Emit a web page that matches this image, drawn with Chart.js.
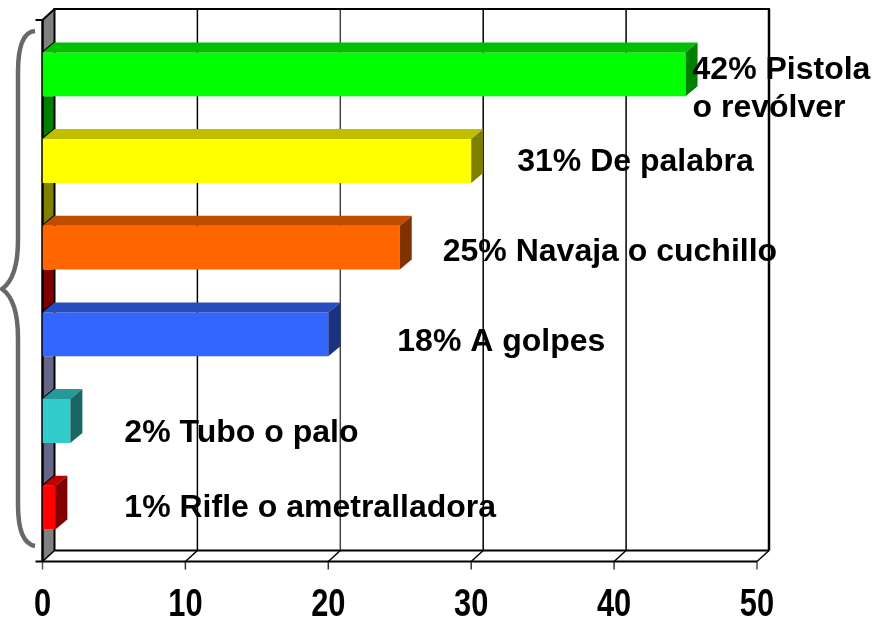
<!DOCTYPE html>
<html>
<head>
<meta charset="utf-8">
<title>Chart</title>
<style>
  html, body { margin: 0; padding: 0; background: #fff; overflow: hidden; }
  canvas { display: block; }
</style>
<script src="https://cdn.jsdelivr.net/npm/chart.js@4"></script>
</head>
<body>
<canvas id="chart" width="888" height="618"></canvas>
<script>
const categories = ['42% Pistola\no revólver', '31% De palabra', '25% Navaja o cuchillo', '18% A golpes', '2% Tubo o palo', '1% Rifle o ametralladora'];
const barValues = [45, 30, 25, 20, 1.95, 0.9];

const barColors = ['#00ff00', '#ffff00', '#ff6600', '#3366ff', '#33cccc', '#ff0000'];
const topColors = ['#00bf00', '#bfbf00', '#bf4d00', '#264dbf', '#269999', '#bf0000'];
const sideColors = ['#008000', '#808000', '#803300', '#1a3380', '#1a6666', '#800000'];
// left wall, piece above the first bar then the piece under each bar
const wallColors = ['#808080', '#008000', '#808000', '#800000', '#666688', '#666688', '#808080'];

// where the text boxes sit, relative to the end of their bar
const labelGap = [7, 46, 43, 69, 54, 69];
const labelShift = [-4, 1, 5, 8, 12, 1];

const DX = 12, DY = 10;       // depth of the fake 3d
const FLOOR = 10.5;           // front floor line sits below the last band
const ROOF = 11;              // front wall top sits above the first band

function line(ctx, x1, y1, x2, y2, w, color) {
  ctx.beginPath();
  ctx.moveTo(x1, y1);
  ctx.lineTo(x2, y2);
  ctx.lineWidth = w;
  ctx.strokeStyle = color || '#000';
  ctx.stroke();
}

function poly(ctx, pts, color) {
  ctx.beginPath();
  pts.forEach((p, i) => i ? ctx.lineTo(p[0], p[1]) : ctx.moveTo(p[0], p[1]));
  ctx.closePath();
  ctx.fillStyle = color;
  ctx.fill();
}

const box3d = {
  id: 'box3d',
  beforeDatasetsDraw(chart) {
    const ctx = chart.ctx, a = chart.chartArea, x = chart.scales.x;
    const bars = chart.getDatasetMeta(0).data;
    const front = a.bottom + FLOOR, top = a.top - ROOF;
    const left = a.left, right = a.right;
    ctx.save();

    // left wall pieces between the bars
    let from = top;
    bars.forEach((b, i) => {
      const to = b.y - b.height / 2;
      poly(ctx, [[left, from], [left + DX, from - (i ? 0 : DY + 1)], [left + DX, to - DY], [left, to]], wallColors[i]);
      line(ctx, left, to, left + DX, to - DY, 2);
      from = b.y + b.height / 2;
    });
    poly(ctx, [[left, from], [left + DX, from], [left + DX, front - DY - 1], [left, front]], wallColors[6]);

    // back wall grid and floor
    x.ticks.forEach(t => {
      const px = x.getPixelForValue(t.value);
      const edge = t.value === 0 || t.value === 50;
      line(ctx, px + DX, top - DY - 1, px + DX, front - DY - 1, t.value === 50 ? 2.5 : (edge ? 2 : 1.5), t.value === 20 ? '#444' : '#000');
      line(ctx, px, front, px + DX, front - DY - 1, 1.5);
      line(ctx, px, front, px, front + 8, 1.5, t.value === 0 || t.value === 50 ? '#555' : '#333');
    });
    line(ctx, left + DX - 1, top - DY - 1, right + DX + 1, top - DY - 1, 2);
    line(ctx, left + DX, front - DY - 1, right + DX, front - DY - 1, 2);
    line(ctx, left - 7, front, right, front, 2);

    // front left edge with its end ticks
    line(ctx, left, top, left, front, 2.5);
    line(ctx, left, top, left + DX, top - DY - 1, 2);
    line(ctx, left - 7, top, left, top, 2);
    ctx.restore();
  },
  afterDatasetsDraw(chart) {
    const ctx = chart.ctx, x = chart.scales.x;
    const bars = chart.getDatasetMeta(0).data;
    ctx.save();
    bars.forEach((b, i) => {
      const t = b.y - b.height / 2, f = b.y + b.height / 2;
      poly(ctx, [[b.base, t], [b.base + DX, t - DY], [b.x + DX, t - DY], [b.x, t]], topColors[i]);
      poly(ctx, [[b.x, t], [b.x + DX, t - DY], [b.x + DX, f - DY], [b.x, f]], sideColors[i]);
    });

    // text boxes
    ctx.font = 'bold 32px "Liberation Sans", Arial, sans-serif';
    ctx.fillStyle = '#000';
    ctx.textBaseline = 'middle';
    ctx.textAlign = 'left';
    bars.forEach((b, i) => {
      categories[i].split('\n').forEach((txt, n) => {
        ctx.fillText(txt, b.x + labelGap[i], b.y + labelShift[i] + n * 38);
      });
    });

    // tick labels are squeezed in the original, the scale has no option for that
    ctx.font = 'bold 39px "Liberation Sans", Arial, sans-serif';
    ctx.textAlign = 'center';
    ctx.textBaseline = 'alphabetic';
    x.ticks.forEach(t => {
      ctx.save();
      ctx.translate(x.getPixelForValue(t.value), 615.5);
      ctx.scale(0.79, 1);
      ctx.fillText(t.label, 0, 0);
      ctx.restore();
    });

    // the brace on the left
    ctx.beginPath();
    ctx.moveTo(35, 31);
    ctx.bezierCurveTo(22, 32, 18, 50, 18, 72);
    ctx.lineTo(18, 240);
    ctx.bezierCurveTo(18, 268, 12, 282, 2, 289);
    ctx.bezierCurveTo(12, 296, 18, 310, 18, 338);
    ctx.lineTo(18, 505);
    ctx.bezierCurveTo(18, 530, 24, 544, 35, 546);
    ctx.lineWidth = 4.5;
    ctx.strokeStyle = '#686868';
    ctx.stroke();
    ctx.restore();
  }
};

new Chart(document.getElementById('chart'), {
  type: 'bar',
  data: {
    labels: categories,
    datasets: [{
      data: barValues,
      backgroundColor: barColors,
      borderWidth: 0,
      categoryPercentage: 1,
      barPercentage: 0.505
    }]
  },
  options: {
    indexAxis: 'y',
    responsive: false,
    animation: false,
    layout: { padding: { left: 42.5, right: 131, top: 31, bottom: 0 } },
    plugins: { legend: { display: false }, tooltip: { enabled: false } },
    scales: {
      x: {
        min: 0,
        max: 50,
        grid: { display: false, drawTicks: false },
        border: { display: false },
        ticks: { stepSize: 10, display: false },
        afterFit(scale) { scale.height = 67; }
      },
      y: { display: false }
    }
  },
  plugins: [box3d]
});
</script>
</body>
</html>
